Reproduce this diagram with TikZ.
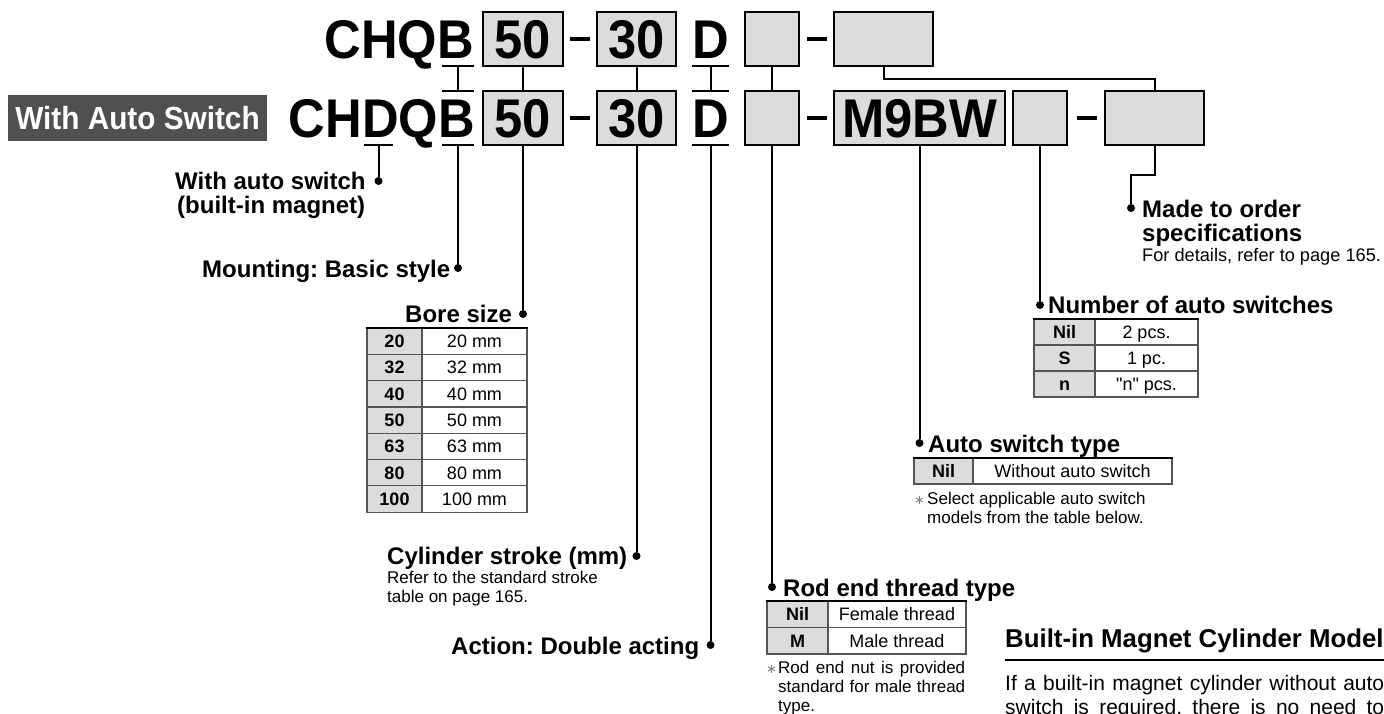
\documentclass[tikz,border=0pt]{standalone}
\usepackage{fontspec}
\setmainfont{Liberation Sans}
\newfontfamily\codefont[FakeStretch=0.93]{Liberation Sans}
\newfontfamily\rawfont[Ligatures=TeXOff]{Liberation Sans}
\newfontfamily\symfont{DejaVu Sans}
\definecolor{boxgray}{RGB}{220,220,220}
\definecolor{labelgray}{RGB}{80,80,80}
\definecolor{rulegray}{RGB}{85,85,85}
\tikzset{
  code/.style={font=\codefont\bfseries\fontsize{54.5}{54.5}\selectfont, inner sep=0pt},
  cbox/.style={draw, line width=2pt, fill=boxgray, inner sep=0pt, minimum height=54pt, text height=39pt, text depth=0pt, code},
  ltr/.style={inner sep=0pt, minimum height=54pt, outer sep=0pt},
  dashmark/.style={inner sep=0pt},
  conn/.style={line width=2pt},
  dotn/.style={circle, fill, inner sep=0pt, minimum size=8pt},
  lbl/.style={font=\bfseries\fontsize{24}{24}\selectfont, inner sep=0pt, anchor=base west},
  small/.style={font=\fontsize{17}{19}\selectfont, inner sep=0pt, anchor=base west},
  star/.style={font=\symfont\fontsize{13}{13}\selectfont, text=gray, inner sep=0pt, anchor=base west},
  cellL/.style={draw=rulegray, line width=1.2pt, fill=boxgray, font=\bfseries\fontsize{18}{18}\selectfont, inner sep=0pt, outer sep=0pt, anchor=north west, text height=13pt, text depth=0pt},
  cellR/.style={draw=rulegray, line width=1.2pt, fill=white, font=\fontsize{18}{18}\selectfont, inner sep=0pt, outer sep=0pt, anchor=north west, text height=13pt, text depth=0pt},
  topline/.style={line width=2.4pt, line cap=rect},
}
\begin{document}
\frenchspacing
\begin{tikzpicture}[x=1pt,y=-1pt]
\useasboundingbox (0,0) rectangle (1384,713);

% ---------- Row 1 ----------
\node[code, anchor=base east] (chqb) at (474,58.5) {CHQB};
\node[ltr, minimum width=32pt] (Bm1) at (458,39) {};
\node[cbox, minimum width=80pt] (b50a) at (523,39) {50};
\node[dashmark] (da1) at (580,39) {\rule{20pt}{3.5pt}};
\node[cbox, minimum width=79pt] (b30a) at (636.5,39) {30};
\node[ltr, code, minimum width=32pt, text height=39pt, text depth=0pt] (d1) at (710.5,39) {D};
\node[cbox, minimum width=54pt] (e1a) at (772,39) {};
\node[dashmark] (da2) at (816.5,39) {\rule{20pt}{3.5pt}};
\node[cbox, minimum width=99pt] (biga) at (883.5,39) {};

% ---------- Row 2 ----------
\node[fill=labelgray, minimum width=259pt, minimum height=46pt, inner sep=0pt, text=white,
      font=\codefont\bfseries\fontsize{32}{32}\selectfont, text height=23pt, text depth=0pt] (was) at (137.5,118) {With Auto Switch};
\node[code, anchor=base east] (chdqb) at (475,137.5) {CHDQB};
\node[ltr, minimum width=29pt] (Dc) at (378.5,118) {};
\node[ltr, minimum width=32pt] (Bm2) at (458,118) {};
\node[cbox, minimum width=80pt] (b50b) at (523,118) {50};
\node[dashmark] (db1) at (580,118) {\rule{20pt}{3.5pt}};
\node[cbox, minimum width=79pt] (b30b) at (636.5,118) {30};
\node[ltr, code, minimum width=32pt, text height=39pt, text depth=0pt] (d2) at (710.5,118) {D};
\node[cbox, minimum width=54pt] (e1b) at (772,118) {};
\node[dashmark] (db2) at (816.5,118) {\rule{20pt}{3.5pt}};
\node[cbox, minimum width=171pt] (m9) at (919.5,118) {M9BW};
\node[cbox, minimum width=54pt] (e2b) at (1040,118) {};
\node[dashmark] (db3) at (1087,118) {\rule{20pt}{3.5pt}};
\node[cbox, minimum width=99pt] (lastb) at (1154.5,118) {};

% ---------- bars between rows ----------
\draw[conn] (Bm1.south west) -- (Bm1.south east);
\draw[conn] (Bm1.south) -- (Bm2.north);
\draw[conn] (Bm2.north west) -- (Bm2.north east);
\draw[conn] (Bm2.south west) -- (Bm2.south east);
\draw[conn] (d1.south west) -- (d1.south east);
\draw[conn] (d1.south) -- (d2.north);
\draw[conn] (d2.north west) -- (d2.north east);
\draw[conn] (d2.south west) -- (d2.south east);
\draw[conn] (Dc.south west) -- (Dc.south east);
\draw[conn] (b50a.south) -- (b50b.north);
\draw[conn] (b30a.south) -- (b30b.north);
\draw[conn] (e1a.south) -- (e1b.north);
\draw[conn] (biga.south) -- ++(0,12) -| (lastb.north);

% ---------- dots ----------
\node[dotn] (dotWith) at (378.5,181) {};
\node[dotn] (dotMount) at (458,268) {};
\node[dotn] (dotBore) at (523,314) {};
\node[dotn] (dotStroke) at (636.5,556) {};
\node[dotn] (dotAct) at (710.5,645) {};
\node[dotn] (dotRod) at (772,587) {};
\node[dotn] (dotAS) at (919.5,443) {};
\node[dotn] (dotNum) at (1040,305) {};
\node[dotn] (dotMade) at (1131,208) {};

\draw[conn] (Dc.south) -- (dotWith);
\draw[conn] (Bm2.south) -- (dotMount);
\draw[conn] (b50b.south) -- (dotBore);
\draw[conn] (b30b.south) -- (dotStroke);
\draw[conn] (d2.south) -- (dotAct);
\draw[conn] (e1b.south) -- (dotRod);
\draw[conn] (m9.south) -- (dotAS);
\draw[conn] (e2b.south) -- (dotNum);
\draw[conn] (lastb.south) -- ++(0,29) -| (dotMade);

% ---------- labels ----------
\node[lbl] (tWith1) at (175,189) {With auto switch};
\node[lbl] (tWith2) at (177,213) {(built-in magnet)};
\node[lbl] (tMount) at (202,277) {Mounting: Basic style};
\node[lbl] (tBore) at (405,322) {Bore size};
\node[lbl] (tStroke) at (387,564) {Cylinder stroke (mm)};
\node[small] (tStroke2) at (387,583) {Refer to the standard stroke};
\node[small] (tStroke3) at (387,602) {table on page 165.};
\node[lbl] (tAct) at (451,654) {Action: Double acting};
\node[lbl] (tRod) at (783,596) {Rod end thread type};
\node[star] (sRod) at (766,673) {∗};
\node[small] (nRod1) at (778,673) {\makebox[187pt][s]{Rod end nut is provided}};
\node[small] (nRod2) at (778,692) {\makebox[187pt][s]{standard for male thread}};
\node[small] (nRod3) at (778,711) {type.};
\node[lbl] (tAS) at (928,452) {Auto switch type};
\node[star] (sAS) at (914,504) {∗};
\node[small] (nAS1) at (927,504) {Select applicable auto switch};
\node[small] (nAS2) at (927,523) {models from the table below.};
\node[lbl] (tNum) at (1048,313) {Number of auto switches};
\node[lbl] (tMade1) at (1142,217) {Made to order};
\node[lbl] (tMade2) at (1142,241) {specifications};
\node[small, font=\fontsize{18.2}{19}\selectfont] (tMade3) at (1142,261) {For details, refer to page 165.};

% ---------- Bore table ----------
\foreach \a/\b [count=\i from 0] in {20/20 mm,32/32 mm,40/40 mm,50/50 mm,63/63 mm,80/80 mm,100/100 mm}{
  \node[cellL, minimum width=55pt, minimum height=26.3pt] (boreL\i) at (367,{328+26.3*\i}) {\a};
  \node[cellR, minimum width=105pt, minimum height=26.3pt] (boreR\i) at (422,{328+26.3*\i}) {\b};
}
\draw[topline] (boreL0.north west) -- (boreR0.north east);

% ---------- Rod end table ----------
\node[cellL, minimum width=61pt, minimum height=26.5pt] (rodL0) at (767,601) {Nil};
\node[cellR, minimum width=138pt, minimum height=26.5pt] (rodR0) at (828,601) {Female thread};
\node[cellL, minimum width=61pt, minimum height=26.5pt] (rodL1) at (767,627.5) {M};
\node[cellR, minimum width=138pt, minimum height=26.5pt] (rodR1) at (828,627.5) {Male thread};
\draw[topline] (rodL0.north west) -- (rodR0.north east);

% ---------- Auto switch table ----------
\node[cellL, minimum width=59pt, minimum height=26pt] (asL0) at (914,458) {Nil};
\node[cellR, minimum width=199pt, minimum height=26pt] (asR0) at (973,458) {Without auto switch};
\draw[topline] (asL0.north west) -- (asR0.north east);

% ---------- Number table ----------
\node[cellL, minimum width=61pt, minimum height=26pt] (numL0) at (1034,319) {Nil};
\node[cellR, minimum width=103pt, minimum height=26pt] (numR0) at (1095,319) {2 pcs.};
\node[cellL, minimum width=61pt, minimum height=26pt] (numL1) at (1034,345) {S};
\node[cellR, minimum width=103pt, minimum height=26pt] (numR1) at (1095,345) {1 pc.};
\node[cellL, minimum width=61pt, minimum height=26pt] (numL2) at (1034,371) {n};
\node[cellR, minimum width=103pt, minimum height=26pt, font=\rawfont\fontsize{18}{18}\selectfont] (numR2) at (1095,371) {"n" pcs.};
\draw[topline] (numL0.north west) -- (numR0.north east);

% ---------- Built-in magnet note ----------
\node[font=\bfseries\fontsize{25.8}{25.8}\selectfont, inner sep=0pt, anchor=base west] (biTitle) at (1005,647) {Built-in Magnet Cylinder Model};
\draw[line width=2.5pt] (1005,660) -- (1384,660);
\node[font=\fontsize{21}{24}\selectfont, inner sep=0pt, anchor=base west] (biBody1) at (1005,690) {\makebox[379pt][s]{If a built-in magnet cylinder without auto}};
\node[font=\fontsize{21}{24}\selectfont, inner sep=0pt, anchor=base west] (biBody2) at (1005,714) {\makebox[379pt][s]{switch is required, there is no need to}};
\end{tikzpicture}
\end{document}
